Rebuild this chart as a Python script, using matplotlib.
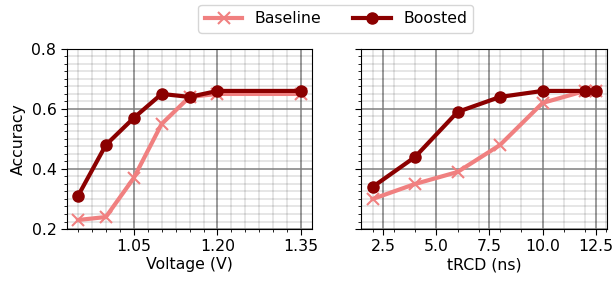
import matplotlib
matplotlib.use("Agg")
import matplotlib.pyplot as plt
from matplotlib.ticker import MultipleLocator

voltage = [0.95, 1.00, 1.05, 1.10, 1.15, 1.20, 1.35]
volt_baseline = [0.23, 0.24, 0.37, 0.55, 0.64, 0.65, 0.65]
volt_boosted = [0.31, 0.48, 0.57, 0.65, 0.64, 0.66, 0.66]

trcd = [2, 4, 6, 8, 10, 12, 12.5]
trcd_baseline = [0.30, 0.35, 0.39, 0.48, 0.62, 0.66, 0.66]
trcd_boosted = [0.34, 0.44, 0.59, 0.64, 0.66, 0.66, 0.66]

volt_ticks = [1.05, 1.20, 1.35]
volt_ticklabels = ['1.05', '1.20', '1.35']
trcd_ticks = [2.5, 5.0, 7.5, 10.0, 12.5]
y_ticks = [0.2, 0.4, 0.6, 0.8]

plt.rcParams['font.family'] = ['DejaVu Sans']
plt.rcParams['font.size'] = 11.3

fig, axes = plt.subplots(1, 2, figsize=(6.13, 2.81), dpi=100, sharey=True)
fig.subplots_adjust(left=0.109, right=0.990, top=0.826, bottom=0.185, wspace=0.2)

c_base = '#f08080'
c_boost = '#8b0000'

panels = [
    (axes[0], voltage, volt_baseline, volt_boosted, 'Voltage (V)', volt_ticks, 0.025),
    (axes[1], trcd, trcd_baseline, trcd_boosted, 'tRCD (ns)', trcd_ticks, 1.0),
]
for ax, x, yb, yo, xl, xt, minor in panels:
    ax.plot(x, yb, color=c_base, marker='x', lw=3, ms=8, mew=1.5, label='Baseline', zorder=3)
    ax.plot(x, yo, color=c_boost, marker='o', lw=3, ms=8, label='Boosted', zorder=4)
    ax.set_xticks(xt)
    ax.xaxis.set_minor_locator(MultipleLocator(minor))
    ax.set_yticks(y_ticks)
    ax.yaxis.set_minor_locator(MultipleLocator(0.025))
    ax.set_ylim(0.2, 0.8)
    ax.grid(which='major', color='#808080', lw=1.1)
    ax.grid(which='minor', color='black', alpha=0.1, lw=1.4)
    ax.set_axisbelow(True)
    ax.set_xlabel(xl, labelpad=2)
    ax.tick_params(which='major', length=4)
    ax.tick_params(which='minor', length=2.5)
    for s in ax.spines.values():
        s.set_color('black')

axes[0].set_xticklabels(volt_ticklabels)
axes[0].set_ylabel('Accuracy')
axes[1].tick_params(labelleft=False)

h, l = axes[0].get_legend_handles_labels()
fig.legend(h, l, loc='upper center', ncol=2, bbox_to_anchor=(0.548, 1.01),
           frameon=True, handlelength=2.4, columnspacing=2.0)

fig.savefig('out.png', dpi=100)
